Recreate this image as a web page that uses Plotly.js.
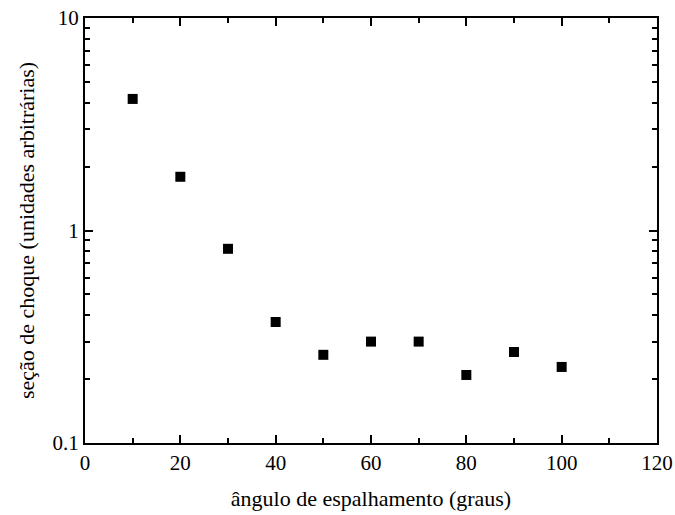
<!DOCTYPE html>
<html><head><meta charset="utf-8">
<script src="https://cdn.plot.ly/plotly-3.0.1.min.js"></script>
<style>html,body{margin:0;padding:0;background:#fff}</style>
</head><body>
<div id="chart" style="width:675px;height:515px"></div>
<script>
const angles = [10, 20, 30, 40, 50, 60, 70, 80, 90, 100];
const crossSection = [4.16, 1.79, 0.82, 0.371, 0.26, 0.30, 0.30, 0.209, 0.268, 0.228];
const xTitle = "ângulo de espalhamento (graus)";
const yTitle = "seção de choque (unidades arbitrárias)";

const fam = "'Liberation Serif', 'DejaVu Serif', serif";
Plotly.newPlot("chart", [{
  x: angles, y: crossSection, type: "scatter", mode: "markers",
  marker: {symbol: "square", size: 10, color: "#000"}
}], {
  width: 675, height: 515,
  margin: {l: 85, r: 18, t: 18, b: 72},
  paper_bgcolor: "#fff", plot_bgcolor: "#fff",
  showlegend: false,
  font: {family: fam, size: 18, color: "#000"},
  xaxis: {
    range: [0, 120], dtick: 20, tick0: 0,
    ticks: "inside", ticklen: 8, tickwidth: 1.5, tickcolor: "#000",
    minor: {ticks: "inside", ticklen: 5, tickwidth: 1.5, dtick: 10, tickcolor: "#000"},
    showline: true, linewidth: 2, linecolor: "#000", mirror: "allticks",
    showgrid: false, zeroline: false,
    tickfont: {family: fam, size: 21, color: "#000"},
    title: {text: xTitle, font: {family: fam, size: 22, color: "#000"}, standoff: 16}
  },
  yaxis: {
    type: "log", range: [-1, 1], dtick: 1,
    ticks: "inside", ticklen: 8, tickwidth: 1.5, tickcolor: "#000",
    minor: {ticks: "inside", ticklen: 5, tickwidth: 1.5, dtick: "D1", tickcolor: "#000"},
    showline: true, linewidth: 2, linecolor: "#000", mirror: "allticks",
    showgrid: false, zeroline: false,
    tickfont: {family: fam, size: 21, color: "#000"},
    title: {text: yTitle, font: {family: fam, size: 22, color: "#000"}, standoff: 12}
  }
}, {displayModeBar: false});
</script>
</body></html>
